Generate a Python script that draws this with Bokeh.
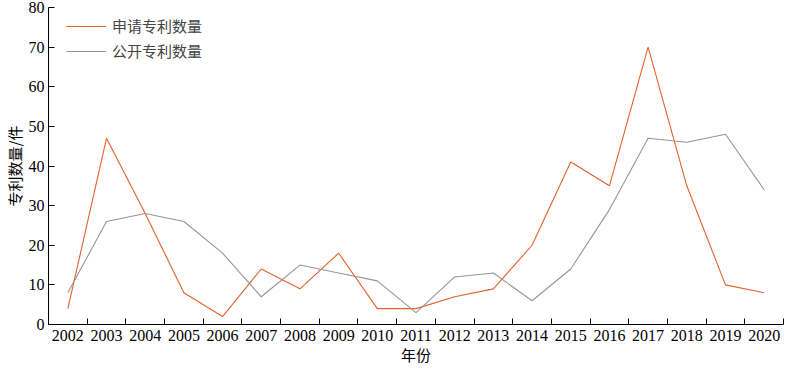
from bokeh.plotting import figure
from bokeh.models import FixedTicker, Legend, LegendItem
from bokeh.embed import file_html
from bokeh.resources import INLINE

years = [2002, 2003, 2004, 2005, 2006, 2007, 2008, 2009, 2010, 2011,
         2012, 2013, 2014, 2015, 2016, 2017, 2018, 2019, 2020]
applied = [4, 47, 28, 8, 2, 14, 9, 18, 4, 4, 7, 9, 20, 41, 35, 70, 35, 10, 8]
published = [8, 26, 28, 26, 18, 7, 15, 13, 11, 3, 12, 13, 6, 14, 29, 47, 46, 48, 34]
y_ticks = [0, 10, 20, 30, 40, 50, 60, 70, 80]

SERIF = "Liberation Serif"
CJK = "Noto Sans CJK SC"

p = figure(width=784, height=367, output_backend="svg", toolbar_location=None,
           x_range=(years[0] - 0.5, years[-1] + 0.5), y_range=(0, 80),
           min_border_left=0, min_border_right=1, min_border_top=7, min_border_bottom=0)
p.outline_line_color = None
p.grid.visible = False

r1 = p.line(years, applied, line_color="#E2622C", line_width=1.1)
r2 = p.line(years, published, line_color="#9A9494", line_width=1.1)

xa = p.xaxis[0]
xa.ticker = FixedTicker(ticks=years, minor_ticks=[y + 0.5 for y in years])
xa.major_tick_in = 0
xa.major_tick_out = 0
xa.minor_tick_in = 6
xa.minor_tick_out = 0
xa.minor_tick_line_color = "black"
xa.major_label_standoff = 5
xa.major_label_text_font = SERIF
xa.major_label_text_font_size = "16px"
xa.major_label_text_color = "black"
xa.axis_label = "年份"
xa.axis_label_text_font = CJK
xa.axis_label_text_font_size = "15px"
xa.axis_label_text_font_style = "normal"
xa.axis_label_text_color = "black"
xa.axis_label_standoff = 0
xa.axis_line_color = "black"

ya = p.yaxis[0]
ya.ticker = FixedTicker(ticks=y_ticks)
ya.major_tick_in = 6
ya.major_tick_out = 0
ya.minor_tick_line_color = None
ya.major_label_standoff = 4
ya.major_label_text_font = SERIF
ya.major_label_text_font_size = "16px"
ya.major_label_text_color = "black"
ya.axis_label = "专利数量/件"
ya.axis_label_text_font = CJK
ya.axis_label_text_font_size = "15px"
ya.axis_label_text_font_style = "normal"
ya.axis_label_text_color = "black"
ya.axis_label_standoff = 1
ya.axis_line_color = "black"

legend = Legend(items=[LegendItem(label="申请专利数量", renderers=[r1]),
                       LegendItem(label="公开专利数量", renderers=[r2])],
                location=(18, 263), label_text_font=CJK, label_text_font_size="15px",
                glyph_width=40, glyph_height=20, spacing=4, padding=2,
                margin=0, label_standoff=6,
                background_fill_alpha=0, border_line_color=None)
p.add_layout(legend)

open("out.html", "w").write(file_html(p, INLINE))
